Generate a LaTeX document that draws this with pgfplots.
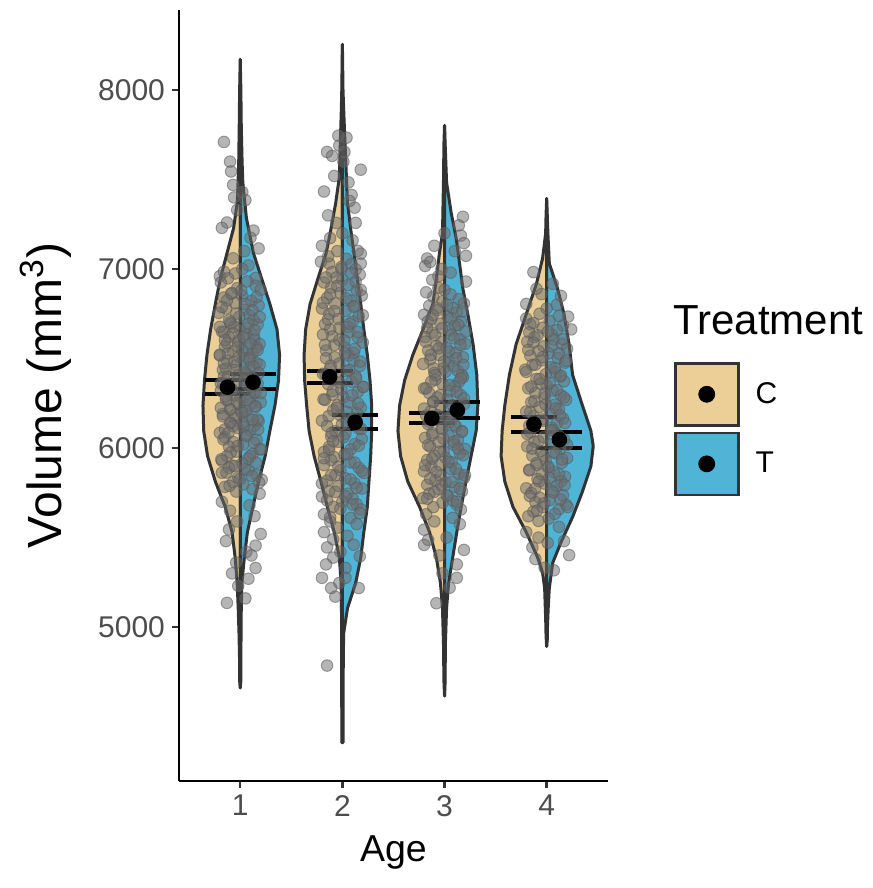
\documentclass[border=0pt]{standalone}
\usepackage{fontspec}
\setmainfont{Liberation Sans}
\usepackage{pgfplots}
\pgfplotsset{compat=1.18}
\definecolor{tanC}{RGB}{235,207,150}
\definecolor{blueT}{RGB}{80,180,215}
\definecolor{olgray}{RGB}{51,51,51}
\definecolor{tickgray}{RGB}{77,77,77}
\definecolor{ptfill}{RGB}{108,108,108}
\definecolor{ptdraw}{RGB}{92,92,92}
\begin{document}
\begin{tikzpicture}
\begin{axis}[
  width=214.5pt, height=385.5pt, scale only axis,
  xmin=0.4, xmax=4.6, ymin=4140, ymax=8447,
  axis x line*=bottom, axis y line*=left,
  axis line style={line width=1.3pt, black, -},
  xtick={1,2,3,4}, ytick={5000,6000,7000,8000},
  tick align=outside, major tick length=3.5pt,
  tick style={line width=1.2pt, color=olgray},
  ticklabel style={font=\fontsize{15}{18}\selectfont, text=tickgray},
  /pgf/number format/assume math mode=true,
  yticklabel style={/pgf/number format/1000 sep={}},
  xlabel={Age}, ylabel={Volume (mm\textsuperscript{3})},
  label style={font=\fontsize{18.75}{22}\selectfont},
  xlabel style={at={(axis description cs:0.5,-0.093)}, anchor=center},
  ylabel style={at={(axis description cs:-0.31,0.5)}, anchor=center, font=\fontsize{24}{28}\selectfont},
  clip=false,
  legend style={at={(1.1538,0.5435)}, anchor=north west, draw=none, fill=none,
    inner sep=0pt, outer sep=0pt, row sep=2.5pt,
    font=\fontsize{15}{18}\selectfont},
  legend cell align=left,
  legend image code/.code={
    \draw[#1, draw=olgray, line width=1.3pt] (0pt,-15.5pt) rectangle (31.5pt,15.5pt);
    \fill[black] (15.75pt,0pt) circle (4pt);
  },
]
\path (rel axis cs:-0.4172,-0.1388) rectangle (rel axis cs:1.6177,1.0130);
% ---- violins (C left, T right) ----
\addplot[fill=tanC, draw=olgray, line width=1.5pt, line join=round, forget plot] coordinates {
(1,8171) (0.994,8000) (0.99,7800) (0.985,7600) (0.975,7428) (0.97,7371) (0.935,7229) (0.87,7088) (0.805,6946) (0.756,6805) (0.71,6663) (0.674,6521) (0.65,6380) (0.635,6238) (0.642,6096) (0.68,5955) (0.756,5813) (0.853,5671) (0.92,5530) (0.95,5388) (0.97,5246) (0.98,5105) (0.988,4963) (0.993,4822) (0.994,4700) (1,4660)} -- cycle;
\addplot[fill=blueT, draw=olgray, line width=1.5pt, line join=round, forget plot] coordinates {
(1,8171) (1.006,8000) (1.01,7800) (1.018,7600) (1.025,7485) (1.06,7286) (1.13,7088) (1.21,6946) (1.29,6805) (1.36,6663) (1.385,6521) (1.375,6380) (1.34,6238) (1.29,6096) (1.244,5955) (1.18,5813) (1.124,5671) (1.07,5530) (1.04,5388) (1.016,5246) (1.01,5105) (1.007,4900) (1.006,4700) (1,4660)} -- cycle;
\addplot[fill=tanC, draw=olgray, line width=1.5pt, line join=round, forget plot] coordinates {
(2,8255) (1.994,8000) (1.99,7900) (1.98,7711) (1.97,7513) (1.935,7371) (1.89,7229) (1.84,7088) (1.76,6946) (1.684,6805) (1.64,6663) (1.625,6521) (1.63,6380) (1.65,6238) (1.674,6096) (1.723,5955) (1.79,5813) (1.853,5671) (1.92,5530) (1.97,5388) (1.988,5246) (1.993,5000) (1.994,4354) (2,4354)} -- cycle;
\addplot[fill=blueT, draw=olgray, line width=1.5pt, line join=round, forget plot] coordinates {
(2,8255) (2.006,8000) (2.012,7900) (2.025,7711) (2.05,7371) (2.08,7229) (2.114,7088) (2.147,6946) (2.18,6805) (2.21,6663) (2.244,6521) (2.27,6380) (2.287,6238) (2.287,6096) (2.277,5955) (2.26,5813) (2.244,5671) (2.21,5530) (2.18,5388) (2.13,5246) (2.05,5105) (2.012,4963) (2.007,4700) (2.006,4354) (2,4354)} -- cycle;
\addplot[fill=tanC, draw=olgray, line width=1.5pt, line join=round, forget plot] coordinates {
(3,7802) (2.994,7700) (2.99,7500) (2.98,7200) (2.95,7088) (2.92,6946) (2.886,6805) (2.79,6663) (2.69,6521) (2.61,6380) (2.56,6238) (2.544,6096) (2.57,5955) (2.64,5813) (2.756,5671) (2.853,5530) (2.92,5388) (2.96,5246) (2.98,5105) (2.99,4900) (2.994,4700) (3,4615)} -- cycle;
\addplot[fill=blueT, draw=olgray, line width=1.5pt, line join=round, forget plot] coordinates {
(3,7802) (3.006,7700) (3.02,7484) (3.065,7314) (3.114,7173) (3.147,7031) (3.18,6890) (3.228,6748) (3.28,6578) (3.316,6408) (3.326,6238) (3.31,6096) (3.26,5955) (3.21,5813) (3.163,5671) (3.12,5530) (3.08,5388) (3.04,5246) (3.02,5105) (3.008,4900) (3.006,4700) (3,4615)} -- cycle;
\addplot[fill=tanC, draw=olgray, line width=1.5pt, line join=round, forget plot] coordinates {
(4,7394) (3.994,7300) (3.99,7200) (3.96,7059) (3.9,6918) (3.8,6748) (3.7,6578) (3.635,6408) (3.59,6238) (3.564,6096) (3.554,5955) (3.59,5813) (3.67,5671) (3.8,5530) (3.912,5388) (3.96,5303) (3.98,5218) (3.99,5050) (3.994,4950) (4,4892)} -- cycle;
\addplot[fill=blueT, draw=olgray, line width=1.5pt, line join=round, forget plot] coordinates {
(4,7394) (4.006,7300) (4.012,7200) (4.026,7031) (4.107,6890) (4.17,6748) (4.22,6578) (4.254,6408) (4.35,6238) (4.433,6096) (4.456,6011) (4.433,5898) (4.35,5756) (4.254,5615) (4.14,5473) (4.06,5360) (4.026,5218) (4.015,5105) (4.007,4990) (4.006,4930) (4,4892)} -- cycle;
% ---- jittered observations ----
\addplot[only marks, mark=*, mark size=2.9pt, mark options={fill=ptfill, draw=ptdraw, fill opacity=0.5, draw opacity=0.55, line width=0.5pt}, forget plot] table[row sep=\\] {
x y\\
0.84 7710\\ 0.90 7600\\ 0.91 7545\\ 0.93 7470\\ 1.02 7430\\ 0.94 7400\\ 1.05 7385\\ 0.97 7330\\ 0.87 7260\\ 0.82 7230\\ 1.13 7215\\ 1.10 7175\\ 1.18 7115\\ 1.04 7100\\ 0.93 7060\\ 1.08 7020\\ 0.80 6960\\ 0.84 6985\\ 1.15 6950\\ 0.95 6975\\ 1.02 7000\\
0.82 5700\\ 1.09 5680\\ 0.90 5650\\ 1.14 5620\\ 0.97 5590\\ 0.89 5545\\ 1.20 5520\\ 0.86 5480\\ 1.15 5455\\ 1.06 5420\\ 0.96 5360\\ 1.11 5400\\ 0.92 5300\\ 1.15 5330\\ 0.87 5135\\ 1.05 5160\\ 0.98 5230\\ 1.08 5270\\
0.88 6948\\ 1.07 6931\\ 0.81 6925\\ 1.15 6907\\ 0.97 6893\\ 1.20 6884\\ 0.92 6866\\ 1.02 6850\\ 0.84 6841\\ 1.11 6822\\ 0.95 6811\\ 1.18 6797\\ 0.86 6780\\ 1.04 6772\\ 0.79 6755\\ 1.09 6741\\ 0.99 6733\\ 1.13 6716\\ 0.90 6702\\ 1.17 6690\\
0.94 6677\\ 1.00 6660\\ 0.82 6651\\ 1.06 6636\\ 0.89 6620\\ 1.14 6609\\ 0.98 6596\\ 1.19 6581\\ 0.85 6566\\ 1.08 6558\\ 0.93 6540\\ 1.12 6528\\ 0.80 6517\\ 1.03 6501\\ 0.87 6489\\ 1.16 6475\\ 0.96 6462\\ 1.10 6450\\ 0.83 6437\\ 1.05 6421\\
1.06 6412\\ 0.84 6398\\ 1.11 6384\\ 0.97 6371\\ 1.17 6360\\ 0.88 6346\\ 1.04 6333\\ 0.81 6320\\ 1.13 6308\\ 0.94 6294\\ 1.09 6282\\ 0.86 6270\\ 1.20 6255\\ 0.99 6243\\ 1.15 6231\\ 0.90 6218\\ 1.01 6204\\ 0.83 6190\\ 1.07 6179\\ 0.95 6165\\
1.18 6150\\ 0.91 6138\\ 1.14 6125\\ 0.98 6111\\ 1.10 6099\\ 0.80 6085\\ 1.05 6072\\ 0.85 6060\\ 1.16 6046\\ 0.93 6034\\ 1.03 6020\\ 0.89 6008\\ 1.19 5994\\ 0.96 5980\\ 1.12 5968\\ 0.87 5955\\ 1.08 5941\\ 0.82 5929\\ 1.02 5915\\ 0.92 5902\\
0.89 5889\\ 1.08 5876\\ 0.82 5862\\ 1.16 5850\\ 0.98 5836\\ 1.21 5823\\ 0.93 5810\\ 1.03 5797\\ 0.85 5783\\ 1.12 5770\\ 0.96 5757\\ 1.19 5745\\
0.91 6695\\ 1.06 6672\\ 0.84 6648\\ 1.13 6627\\ 0.99 6603\\ 0.87 6585\\ 1.16 6562\\ 1.02 6545\\ 0.80 6522\\ 1.09 6505\\ 0.94 6480\\ 1.19 6466\\ 0.86 6443\\ 1.04 6428\\ 0.97 6405\\ 1.12 6389\\ 0.83 6366\\ 1.07 6350\\ 0.92 6327\\ 1.15 6312\\ 1.00 6289\\ 0.88 6266\\ 1.10 6248\\ 0.81 6225\\ 1.05 6208\\ 0.95 6185\\ 1.17 6160\\ 0.90 6142\\ 1.03 6118\\ 0.85 6104\\
1.01 6880\\ 0.91 6862\\ 1.16 6843\\ 0.87 6825\\ 1.05 6806\\ 0.82 6788\\ 1.12 6769\\ 0.96 6751\\ 1.19 6732\\ 0.89 6714\\ 1.08 6695\\ 0.80 6677\\ 1.14 6658\\ 0.93 6640\\ 1.03 6621\\ 0.85 6603\\ 1.10 6584\\ 0.98 6566\\ 1.17 6547\\ 0.88 6529\\
0.99 6510\\ 1.09 6492\\ 0.84 6473\\ 1.13 6455\\ 0.95 6436\\ 1.18 6418\\ 0.88 6399\\ 1.04 6381\\ 0.81 6362\\ 1.11 6344\\ 0.92 6325\\ 1.20 6307\\ 0.86 6288\\ 1.07 6270\\ 0.97 6251\\ 1.15 6233\\ 0.90 6214\\ 1.02 6196\\ 0.83 6177\\ 1.12 6159\\
1.025 6140\\ 0.925 6122\\ 1.175 6103\\ 0.885 6085\\ 1.065 6066\\ 0.835 6048\\ 1.135 6029\\ 0.975 6011\\ 1.205 5992\\ 0.905 5974\\ 1.095 5955\\ 0.815 5937\\ 1.155 5918\\ 0.945 5900\\ 1.045 5881\\ 0.865 5863\\ 1.115 5844\\ 0.995 5826\\ 1.185 5807\\ 0.895 5789\\
1.96 7745\\ 2.04 7734\\ 1.85 7654\\ 1.90 7632\\ 2.02 7654\\ 2.18 7555\\ 1.82 7433\\ 2.06 7484\\ 2.09 7414\\ 2.12 7343\\ 1.94 7258\\ 1.88 7173\\ 2.13 7258\\ 1.80 7130\\ 2.15 7102\\ 1.87 7031\\ 2.18 7031\\ 1.97 7690\\ 2.01 7600\\ 1.92 7520\\ 2.07 7380\\ 1.86 7300\\ 2.00 7200\\ 2.10 7160\\
1.82 5630\\ 2.08 5610\\ 1.88 5590\\ 2.14 5575\\ 1.95 5555\\ 1.82 5530\\ 2.05 5510\\ 1.91 5490\\ 1.85 5445\\ 2.11 5460\\ 1.98 5420\\ 1.91 5388\\ 2.17 5395\\ 1.84 5350\\ 2.03 5330\\ 1.80 5275\\ 2.03 5275\\ 1.97 5246\\ 1.89 5218\\ 2.16 5218\\ 1.93 5170\\ 1.85 4785\\
1.95 7100\\ 2.18 7086\\ 1.86 7071\\ 2.04 7057\\ 1.79 7041\\ 2.09 7028\\ 1.99 7012\\ 2.13 6998\\ 1.90 6983\\ 2.17 6969\\ 1.94 6953\\ 2.00 6940\\ 1.82 6925\\ 2.06 6910\\ 1.89 6896\\ 2.14 6881\\ 1.98 6867\\ 2.19 6851\\ 1.85 6838\\ 2.08 6823\\
1.93 6808\\ 2.12 6794\\ 1.80 6779\\ 2.03 6765\\ 1.87 6749\\ 2.16 6736\\ 1.96 6721\\ 2.10 6706\\ 1.83 6692\\ 2.05 6677\\ 1.88 6663\\ 2.07 6647\\ 1.81 6634\\ 2.15 6619\\ 1.97 6604\\ 2.20 6590\\ 1.92 6575\\ 2.02 6561\\ 1.84 6545\\ 2.11 6532\\
2.06 6517\\ 1.84 6502\\ 2.11 6488\\ 1.97 6473\\ 2.17 6459\\ 1.88 6443\\ 2.04 6430\\ 1.81 6415\\ 2.13 6400\\ 1.94 6386\\ 2.09 6371\\ 1.86 6357\\ 2.20 6341\\ 1.99 6328\\ 2.15 6313\\ 1.90 6298\\ 2.01 6284\\ 1.83 6269\\ 2.07 6255\\ 1.95 6239\\
2.18 6226\\ 1.91 6211\\ 2.14 6196\\ 1.98 6182\\ 2.10 6167\\ 1.80 6153\\ 2.05 6137\\ 1.85 6124\\ 2.16 6109\\ 1.93 6094\\ 2.03 6080\\ 1.89 6065\\ 2.19 6051\\ 1.96 6035\\ 2.12 6022\\ 1.87 6007\\ 2.08 5992\\ 1.82 5978\\ 2.02 5963\\ 1.92 5949\\
1.89 5933\\ 2.08 5920\\ 1.82 5905\\ 2.16 5890\\ 1.98 5876\\ 2.21 5861\\ 1.93 5847\\ 2.03 5831\\ 1.85 5818\\ 2.12 5803\\ 1.96 5788\\ 2.19 5774\\ 1.87 5759\\ 2.05 5745\\ 1.80 5729\\ 2.10 5716\\ 2.00 5701\\ 2.14 5686\\ 1.91 5672\\ 2.18 5657\\
1.99 7000\\ 2.09 6977\\ 1.84 6953\\ 2.13 6930\\ 1.95 6906\\ 2.18 6883\\ 1.88 6859\\ 2.04 6836\\ 1.81 6812\\ 2.11 6789\\ 1.92 6765\\ 2.20 6742\\ 1.86 6718\\ 2.07 6695\\ 1.97 6671\\ 2.15 6648\\ 1.90 6624\\ 2.02 6601\\ 1.83 6577\\ 2.12 6554\\
2.025 6530\\ 1.925 6507\\ 2.175 6483\\ 1.885 6460\\ 2.065 6436\\ 1.835 6413\\ 2.135 6389\\ 1.975 6366\\ 2.205 6342\\ 1.905 6319\\ 2.095 6295\\ 1.815 6272\\ 2.155 6248\\ 1.945 6225\\ 2.045 6201\\ 1.865 6178\\ 2.115 6154\\ 1.995 6131\\ 2.185 6107\\ 1.895 6084\\
2.01 6060\\ 1.91 6037\\ 2.16 6013\\ 1.87 5990\\ 2.05 5966\\ 1.82 5943\\ 2.12 5919\\ 1.96 5896\\ 2.19 5872\\ 1.89 5849\\ 2.08 5825\\ 1.80 5802\\ 2.14 5778\\ 1.93 5755\\ 2.03 5731\\ 1.85 5708\\ 2.10 5684\\ 1.98 5661\\ 2.17 5637\\ 1.88 5614\\
3.18 7292\\ 3.14 7244\\ 3.16 7187\\ 3.19 7145\\ 3.21 7074\\ 2.90 7130\\ 2.83 7059\\ 2.81 7017\\ 2.86 7040\\ 2.94 6960\\ 2.97 7000\\ 3.06 6980\\ 3.10 7100\\ 3.21 6930\\ 3.00 7200\\ 2.88 6940\\
2.82 5630\\ 3.08 5610\\ 2.90 5590\\ 3.15 5575\\ 2.80 5544\\ 2.84 5487\\ 2.80 5459\\ 3.19 5431\\ 3.02 5500\\ 2.95 5400\\ 3.12 5350\\ 3.12 5275\\ 2.98 5300\\ 2.92 5133\\ 3.05 5220\\
2.94 6895\\ 3.00 6883\\ 2.82 6870\\ 3.06 6858\\ 2.89 6845\\ 3.14 6832\\ 2.98 6820\\ 3.19 6808\\ 2.85 6795\\ 3.08 6782\\ 2.93 6770\\ 3.12 6757\\ 2.80 6745\\ 3.03 6733\\ 2.87 6720\\ 3.16 6707\\ 2.96 6695\\ 3.10 6683\\ 2.83 6670\\ 3.05 6657\\
2.88 6645\\ 3.07 6632\\ 2.81 6620\\ 3.15 6608\\ 2.97 6595\\ 3.20 6582\\ 2.92 6570\\ 3.02 6558\\ 2.84 6545\\ 3.11 6533\\ 2.95 6520\\ 3.18 6507\\ 2.86 6495\\ 3.04 6483\\ 2.79 6470\\ 3.09 6457\\ 2.99 6445\\ 3.13 6432\\ 2.90 6420\\ 3.17 6408\\
3.18 6395\\ 2.91 6382\\ 3.14 6370\\ 2.98 6358\\ 3.10 6345\\ 2.80 6333\\ 3.05 6320\\ 2.85 6307\\ 3.16 6295\\ 2.93 6283\\ 3.03 6270\\ 2.89 6257\\ 3.19 6245\\ 2.96 6232\\ 3.12 6220\\ 2.87 6208\\ 3.08 6195\\ 2.82 6182\\ 3.02 6170\\ 2.92 6158\\
3.06 6145\\ 2.84 6133\\ 3.11 6120\\ 2.97 6107\\ 3.17 6095\\ 2.88 6083\\ 3.04 6070\\ 2.81 6057\\ 3.13 6045\\ 2.94 6032\\ 3.09 6020\\ 2.86 6008\\ 3.20 5995\\ 2.99 5982\\ 3.15 5970\\ 2.90 5958\\ 3.01 5945\\ 2.83 5933\\ 3.07 5920\\ 2.95 5907\\
2.87 5895\\ 3.06 5883\\ 2.80 5870\\ 3.14 5857\\ 2.96 5845\\ 3.19 5832\\ 2.91 5820\\ 3.01 5808\\ 2.83 5795\\ 3.10 5782\\ 2.94 5770\\ 3.17 5758\\ 2.85 5745\\ 3.03 5733\\ 2.79 5720\\ 3.08 5707\\ 2.98 5695\\ 3.12 5683\\ 2.89 5670\\ 3.16 5657\\
3.025 6800\\ 2.925 6781\\ 3.175 6763\\ 2.885 6744\\ 3.065 6725\\ 2.835 6707\\ 3.135 6688\\ 2.975 6669\\ 3.205 6651\\ 2.905 6632\\ 3.095 6613\\ 2.815 6595\\ 3.155 6576\\ 2.945 6557\\ 3.045 6539\\ 2.865 6520\\ 3.115 6501\\ 2.995 6483\\ 3.185 6464\\ 2.895 6445\\
3.01 6427\\ 2.91 6408\\ 3.16 6389\\ 2.87 6371\\ 3.05 6352\\ 2.82 6333\\ 3.12 6315\\ 2.96 6296\\ 3.19 6277\\ 2.89 6259\\ 3.08 6240\\ 2.80 6221\\ 3.14 6203\\ 2.93 6184\\ 3.03 6165\\ 2.85 6147\\ 3.10 6128\\ 2.98 6109\\ 3.17 6091\\ 2.88 6072\\
2.99 6053\\ 3.09 6035\\ 2.84 6016\\ 3.13 5997\\ 2.95 5979\\ 3.18 5960\\ 2.88 5941\\ 3.04 5923\\ 2.81 5904\\ 3.11 5885\\ 2.92 5867\\ 3.20 5848\\ 2.86 5829\\ 3.07 5811\\ 2.97 5792\\ 3.15 5773\\ 2.90 5755\\ 3.02 5736\\ 2.83 5717\\ 3.12 5699\\
3.87 6983\\ 4.06 6918\\ 3.80 6805\\ 3.84 6691\\ 4.21 6734\\ 4.24 6663\\ 3.95 6860\\ 4.10 6800\\ 3.90 6890\\ 4.00 6780\\ 4.14 6850\\
3.80 5530\\ 3.86 5445\\ 3.98 5331\\ 4.22 5402\\ 4.07 5317\\ 3.92 5500\\ 4.12 5560\\ 4.01 5470\\ 3.89 5380\\ 4.17 5480\\
3.93 6750\\ 4.12 6737\\ 3.80 6724\\ 4.03 6711\\ 3.87 6698\\ 4.16 6685\\ 3.96 6672\\ 4.10 6659\\ 3.83 6646\\ 4.05 6633\\ 3.88 6620\\ 4.07 6607\\ 3.81 6594\\ 4.15 6581\\ 3.97 6568\\ 4.20 6555\\ 3.92 6542\\ 4.02 6529\\ 3.84 6516\\ 4.11 6503\\
3.95 6490\\ 4.18 6477\\ 3.86 6464\\ 4.04 6451\\ 3.79 6438\\ 4.09 6425\\ 3.99 6412\\ 4.13 6399\\ 3.90 6386\\ 4.17 6373\\ 3.94 6360\\ 4.00 6347\\ 3.82 6334\\ 4.06 6321\\ 3.89 6308\\ 4.14 6295\\ 3.98 6282\\ 4.19 6269\\ 3.85 6256\\ 4.08 6243\\
3.93 6230\\ 4.12 6217\\ 3.80 6204\\ 4.03 6191\\ 3.87 6178\\ 4.16 6165\\ 3.96 6152\\ 4.10 6139\\ 3.83 6126\\ 4.05 6113\\ 4.06 6100\\ 3.84 6087\\ 4.11 6074\\ 3.97 6061\\ 4.17 6048\\ 3.88 6035\\ 4.04 6022\\ 3.81 6009\\ 4.13 5996\\ 3.94 5983\\
4.09 5970\\ 3.86 5957\\ 4.20 5944\\ 3.99 5931\\ 4.15 5918\\ 3.90 5905\\ 4.01 5892\\ 3.83 5879\\ 4.07 5866\\ 3.95 5853\\ 4.18 5840\\ 3.91 5827\\ 4.14 5814\\ 3.98 5801\\ 4.10 5788\\ 3.80 5775\\ 4.05 5762\\ 3.85 5749\\ 4.16 5736\\ 3.93 5723\\
4.03 5710\\ 3.89 5697\\ 4.19 5684\\ 3.96 5671\\ 4.12 5658\\ 3.87 5645\\ 4.08 5632\\ 3.82 5619\\ 4.02 5606\\ 3.92 5593\\
4.01 6650\\ 3.91 6630\\ 4.16 6609\\ 3.87 6589\\ 4.05 6568\\ 3.82 6548\\ 4.12 6528\\ 3.96 6507\\ 4.19 6487\\ 3.89 6466\\ 4.08 6446\\ 3.80 6426\\ 4.14 6405\\ 3.93 6385\\ 4.03 6364\\ 3.85 6344\\ 4.10 6324\\ 3.98 6303\\ 4.17 6283\\ 3.88 6262\\
3.99 6242\\ 4.09 6222\\ 3.84 6201\\ 4.13 6181\\ 3.95 6160\\ 4.18 6140\\ 3.88 6120\\ 4.04 6099\\ 3.81 6079\\ 4.11 6058\\ 3.92 6038\\ 4.20 6018\\ 3.86 5997\\ 4.07 5977\\ 3.97 5956\\ 4.15 5936\\ 3.90 5916\\ 4.02 5895\\ 3.83 5875\\ 4.12 5854\\
4.025 5834\\ 3.925 5814\\ 4.175 5793\\ 3.885 5773\\ 4.065 5752\\ 3.835 5732\\ 4.135 5712\\ 3.975 5691\\ 4.205 5671\\ 3.905 5650\\
};
% ---- standard error bars ----
\addplot[black, line width=2pt, unbounded coords=jump, forget plot] coordinates {
(0.65,6300) (1.10,6300) (nan,nan) (0.65,6380) (1.10,6380) (nan,nan) (0.875,6300) (0.875,6380) (nan,nan)
(0.90,6328) (1.35,6328) (nan,nan) (0.90,6412) (1.35,6412) (nan,nan) (1.125,6328) (1.125,6412) (nan,nan)
(1.65,6365) (2.10,6365) (nan,nan) (1.65,6432) (2.10,6432) (nan,nan) (1.875,6365) (1.875,6432) (nan,nan)
(1.90,6104) (2.35,6104) (nan,nan) (1.90,6184) (2.35,6184) (nan,nan) (2.125,6104) (2.125,6184) (nan,nan)
(2.65,6141) (3.10,6141) (nan,nan) (2.65,6197) (3.10,6197) (nan,nan) (2.875,6141) (2.875,6197) (nan,nan)
(2.90,6166) (3.35,6166) (nan,nan) (2.90,6259) (3.35,6259) (nan,nan) (3.125,6166) (3.125,6259) (nan,nan)
(3.65,6091) (4.10,6091) (nan,nan) (3.65,6175) (4.10,6175) (nan,nan) (3.875,6091) (3.875,6175) (nan,nan)
(3.90,6003) (4.35,6003) (nan,nan) (3.90,6091) (4.35,6091) (nan,nan) (4.125,6003) (4.125,6091)};
% ---- means ----
\addplot[only marks, mark=*, mark size=3.7pt, mark options={fill=black, draw=black}, forget plot] coordinates {
(0.875,6340) (1.125,6368) (1.875,6398) (2.125,6144) (2.875,6166) (3.125,6212) (3.875,6133) (4.125,6047)};
% ---- legend ----
\addlegendimage{fill=tanC}
\addlegendentry{\hspace{6pt}C}
\addlegendimage{fill=blueT}
\addlegendentry{\hspace{6pt}T}
\node[anchor=base west, font=\fontsize{21}{25}\selectfont, inner sep=0pt] at (rel axis cs:1.1515,0.5785) {Treatment};
\end{axis}
\end{tikzpicture}
\end{document}
